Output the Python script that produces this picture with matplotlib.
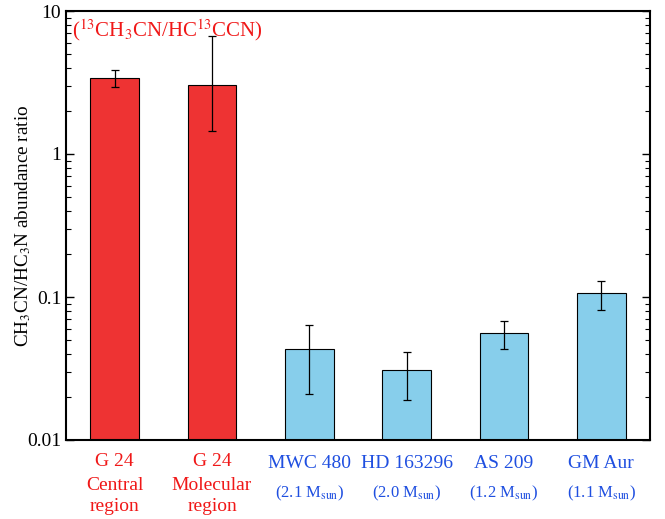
import matplotlib
matplotlib.use("Agg")
import matplotlib.pyplot as plt
import numpy as np

plt.rcParams['font.family'] = ['Liberation Serif', 'DejaVu Serif']
plt.rcParams['mathtext.fontset'] = 'stix'

names = ["G 24", "G 24", "MWC 480", "HD 163296", "AS 209", "GM Aur"]
sublabels = ["Central\nregion", "Molecular\nregion",
             r"(2.1 M$_{\rm sun}$)", r"(2.0 M$_{\rm sun}$)",
             r"(1.2 M$_{\rm sun}$)", r"(1.1 M$_{\rm sun}$)"]
values = [3.40, 3.04, 0.043, 0.031, 0.056, 0.107]
err_low = [2.94, 1.45, 0.021, 0.019, 0.0435, 0.081]
err_high = [3.86, 6.7, 0.064, 0.041, 0.0676, 0.129]
groups = ["G24", "G24", "disk", "disk", "disk", "disk"]

red = "#EE3333"
blue = "#87CEEB"
txt_red = "#F01818"
txt_blue = "#1F4FE0"

fig = plt.figure(figsize=(6.65, 5.19), dpi=100)
ax = fig.add_axes([66/665, 1-440/519, 584/665, 429/519])

x = np.arange(len(values))
vals = np.array(values)
yerr = np.array([vals - np.array(err_low), np.array(err_high) - vals])
colors = [red if g == "G24" else blue for g in groups]
ax.bar(x, vals, width=0.5, color=colors, edgecolor="black", linewidth=0.8, zorder=2)
ax.errorbar(x, vals, yerr=yerr, fmt="none", ecolor="black", elinewidth=0.9,
            capsize=3, capthick=0.9, zorder=3)

ax.set_yscale("log")
ax.set_ylim(0.01, 10)
ax.set_xlim(-0.5, 5.5)
ax.set_yticks([0.01, 0.1, 1, 10])
ax.set_yticklabels(["0.01", "0.1", "1", "10"])
ax.tick_params(axis="y", which="both", direction="in", left=True, right=True, labelsize=14)
ax.tick_params(axis="y", which="major", length=6, width=1)
ax.tick_params(axis="y", which="minor", length=3.5, width=0.8)
ax.tick_params(axis="x", which="both", bottom=False, top=False, labelbottom=False)
for s in ax.spines.values():
    s.set_linewidth(1.5)

ax.set_ylabel(r"CH$_3$CN/HC$_3$N abundance ratio", fontsize=13.8, labelpad=-4)

trans = ax.get_xaxis_transform()
for i in range(len(values)):
    if groups[i] == "G24":
        ax.text(x[i], -22/429, names[i], transform=trans, ha="center", va="center",
                color=txt_red, fontsize=14)
        ax.text(x[i], -56/429, sublabels[i], transform=trans, ha="center", va="center",
                color=txt_red, fontsize=14, linespacing=1.3)
    else:
        ax.text(x[i], -24/429, names[i], transform=trans, ha="center", va="center",
                color=txt_blue, fontsize=14)
        ax.text(x[i], -53/429, sublabels[i], transform=trans, ha="center", va="center",
                color=txt_blue, fontsize=12)

ax.text(0.01, 0.955, r"($^{13}$CH$_3$CN/HC$^{13}$CCN)", transform=ax.transAxes,
        ha="left", va="center", color=txt_red, fontsize=15)

fig.savefig("out.png", dpi=100)
